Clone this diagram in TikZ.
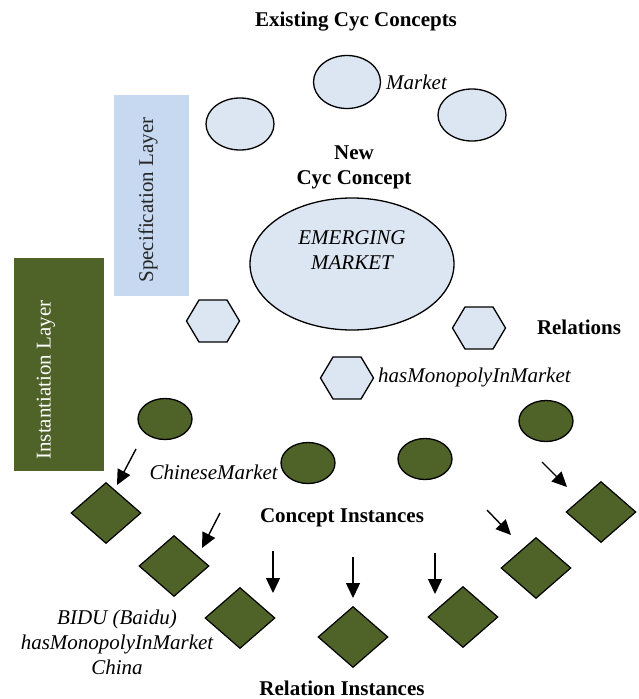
\documentclass[tikz,border=0pt]{standalone}
\usepackage{fontspec}
\setmainfont{Liberation Serif}
\usetikzlibrary{shapes.geometric,arrows.meta}
\definecolor{lightfill}{HTML}{DCE6F2}
\definecolor{specfill}{HTML}{C6D9F1}
\definecolor{olive}{HTML}{4F6228}
\begin{document}
\begin{tikzpicture}[x=1pt,y=-1pt,
  txt/.style={font=\fontsize{21}{25}\selectfont, inner sep=0pt, align=center},
  btxt/.style={txt, font=\fontsize{21}{25}\selectfont\bfseries},
  itxt/.style={txt, font=\fontsize{21}{25}\selectfont\itshape},
  concept/.style={ellipse, draw=black, line width=1.3pt, fill=lightfill, inner sep=0pt},
  hexpath/.style={draw=black, line width=1.3pt, fill=lightfill, line join=miter},
  inst/.style={ellipse, draw=black, line width=1.3pt, fill=olive, inner sep=0pt, minimum width=54pt, minimum height=41pt},
  relinst/.style={diamond, draw=black, line width=1.2pt, fill=olive, inner sep=0pt, minimum width=70pt, minimum height=61pt},
  arr/.style={line width=1.4pt, -{Triangle[length=15pt,width=14pt]}}
]
\useasboundingbox (0,0) rectangle (638,699);

% layer bars
\node[fill=specfill, minimum width=75pt, minimum height=201pt, inner sep=0pt] (spec) at (151.5,195.5) {};
\node[txt, rotate=90, text=black!85] (spectxt) at (148,200) {Specification Layer};
\node[fill=olive, minimum width=90pt, minimum height=213pt, inner sep=0pt] (instbar) at (59,364.5) {};
\node[txt, rotate=90, text=white] (insttxt) at (46,380) {Instantiation Layer};

% titles
\node[btxt] (title) at (356,22) {Existing Cyc Concepts};
\node[btxt] (newc) at (354,167) {New\\Cyc Concept};
\node[btxt] (rels) at (579,327) {Relations};
\node[btxt] (cinst) at (342,518) {Concept Instances};
\node[btxt] (rinst) at (342,688) {Relation Instances};

% existing concepts
\node[concept, minimum width=67pt, minimum height=53pt] (c1) at (347,82) {};
\node[concept, minimum width=68pt, minimum height=52pt] (c2) at (240,124) {};
\node[concept, minimum width=68pt, minimum height=52pt] (c3) at (472,115) {};
\node[itxt, anchor=west] (market) at (386,82) {Market};

% new concept
\node[concept, minimum width=204pt, minimum height=132pt] (em) at (352,264) {};
\node[itxt] (emtxt) at (352,250) {EMERGING\\MARKET};

% relations (hexagons)
\coordinate (h1) at (213,321);
\coordinate (h2) at (479,328);
\coordinate (h3) at (347,378);
\foreach \h in {h1,h2,h3}
  \draw[hexpath, shift={(\h)}] (-26.5,0) -- (-14,-21) -- (14,-21) -- (26.5,0) -- (14,21) -- (-14,21) -- cycle;
\node[itxt, anchor=west] (hasm) at (378,377) {hasMonopolyInMarket};

% concept instances
\node[inst] (i1) at (165,419) {};
\node[inst] (i2) at (546,421) {};
\node[inst] (i3) at (308,463) {};
\node[inst] (i4) at (425,459) {};
\node[itxt, anchor=east] (chm) at (278,472) {ChineseMarket};

% relation instances
\node[relinst] (d1) at (106,513) {};
\node[relinst] (d2) at (174,566) {};
\node[relinst] (d3) at (240,618) {};
\node[relinst] (d4) at (353,637) {};
\node[relinst] (d5) at (463,617) {};
\node[relinst] (d6) at (536,568) {};
\node[relinst] (d7) at (601,512) {};
\node[itxt] (bidu) at (117,642) {BIDU (Baidu)\\hasMonopolyInMarket\\China};

% arrows
\coordinate (a1s) at (136,449); \coordinate (a1e) at (117,485);
\coordinate (a2s) at (220,513); \coordinate (a2e) at (202,548);
\coordinate (a3s) at (273,551); \coordinate (a3e) at (273,593);
\coordinate (a4s) at (353,557); \coordinate (a4e) at (353,598);
\coordinate (a5s) at (435,553); \coordinate (a5e) at (435,594);
\coordinate (a6s) at (487,510); \coordinate (a6e) at (511,535);
\coordinate (a7s) at (542,462); \coordinate (a7e) at (567,487);
\draw[arr] (a1s) -- (a1e);
\draw[arr] (a2s) -- (a2e);
\draw[arr] (a3s) -- (a3e);
\draw[arr] (a4s) -- (a4e);
\draw[arr] (a5s) -- (a5e);
\draw[arr] (a6s) -- (a6e);
\draw[arr] (a7s) -- (a7e);
\end{tikzpicture}
\end{document}
